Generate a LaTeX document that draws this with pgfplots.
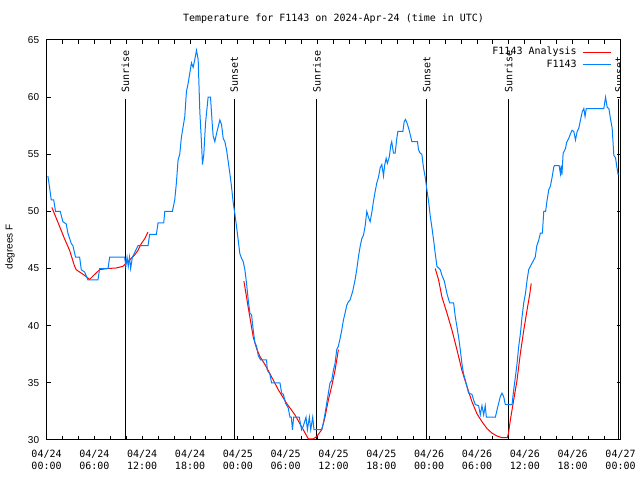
\documentclass[border=0pt]{standalone}
\usepackage{fontspec}
\setmainfont{DejaVu Sans Mono}
\newfontfamily\lsans{Liberation Sans}
\usepackage{pgfplots}
\pgfplotsset{compat=1.18}
\newcommand\mf{\fontsize{7.5}{9}\selectfont}
\definecolor{obsblue}{RGB}{0,128,255}
\definecolor{anared}{RGB}{255,0,0}
\begin{document}
\begin{tikzpicture}
\begin{axis}[
  width=430.5pt, height=300pt, scale only axis,
  xmin=0, xmax=72, ymin=30, ymax=65,
  xtick={0,6,...,72}, minor xtick={0,2,...,72},
  xticklabels={{04/24\\00:00},{04/24\\06:00},{04/24\\12:00},{04/24\\18:00},{04/25\\00:00},{04/25\\06:00},{04/25\\12:00},{04/25\\18:00},{04/26\\00:00},{04/26\\06:00},{04/26\\12:00},{04/26\\18:00},{04/27\\00:00}},
  xticklabel style={align=center, font=\mf, inner sep=0pt, anchor=north, yshift=-7pt},
  ytick={30,35,...,65},
  yticklabel style={font=\lsans\fontsize{7.5}{9}\selectfont, inner sep=0pt, anchor=east, xshift=-5.4pt},
  /pgf/number format/assume math mode=true,
  tick align=inside, major tick length=3pt, minor tick length=3pt,
  every tick/.style={black, line width=0.75pt},
  axis line style={black, line width=0.75pt},
  ylabel={degrees F},
  ylabel style={font=\lsans\fontsize{7.5}{9}\selectfont, at={(axis description cs:-0.0636,0.4825)}, anchor=center},
  legend style={draw=none, fill=none, at={(1,1)}, anchor=north east, xshift=-6.9pt, yshift=-4.25pt, font=\mf, inner sep=0pt, nodes={inner sep=1pt}, row sep=0pt, column sep=3pt},
  legend plot pos=right, legend cell align=right,
  legend image code/.code={\draw[#1] (0pt,0pt) -- (21pt,0pt);},
  clip=true,
]
% day/night lines
\addplot[black, line width=0.75pt, forget plot] coordinates {(9.89,30) (9.89,59.8)};
\addplot[black, line width=0.75pt, forget plot] coordinates {(23.54,30) (23.54,59.8)};
\addplot[black, line width=0.75pt, forget plot] coordinates {(33.92,30) (33.92,59.8)};
\addplot[black, line width=0.75pt, forget plot] coordinates {(47.68,30) (47.68,59.8)};
\addplot[black, line width=0.75pt, forget plot] coordinates {(57.98,30) (57.98,59.8)};
\addplot[black, line width=0.75pt, forget plot] coordinates {(71.8,30) (71.8,59.8)};
% analysis
\addplot[anared, line width=0.75pt] coordinates {
(0.67,50.35) (1.63,48.7) (2.26,47.6) (2.89,46.6) (3.52,45.2) (3.73,44.9) (4.78,44.4) (5.4,44.05) (5.9,44.4) (6.66,44.9) (7.5,45.0) (8.76,45.05) (9.59,45.2) (10.43,45.75) (11.06,46.2) (11.48,46.6) (11.9,47.2) (12.31,47.6) (12.73,48.2)};
\addlegendentry{F1143 Analysis}
\addplot[anared, line width=0.75pt, forget plot] coordinates {
(24.76,43.9) (25.3,41.6) (25.93,39.0) (26.35,38.0) (26.77,37.3) (27.4,36.6) (28.02,35.8) (29.07,34.4) (30.12,33.2) (31.16,32.2) (32.2,30.9) (32.84,30.1) (33.46,30.1) (33.89,30.3) (34.52,30.9) (34.93,32.0) (35.35,33.5) (35.77,34.7) (36.19,36.1) (36.61,37.9)};
\addplot[anared, line width=0.75pt, forget plot] coordinates {
(48.76,45.0) (49.18,44.0) (49.6,42.5) (50.23,41.1) (50.86,39.6) (51.48,37.9) (52.1,36.1) (52.73,34.7) (53.36,33.35) (53.99,32.3) (54.62,31.6) (55.25,31.0) (55.88,30.6) (56.5,30.35) (57.13,30.2) (57.8,30.2) (57.95,30.6) (58.18,31.75) (58.6,33.5) (59.02,35.25) (59.44,37.6) (59.86,39.6) (60.28,41.4) (60.6,42.7) (60.8,43.7)};
% observations
\addplot[obsblue, line width=0.75pt] coordinates {
(0.17,53.1) (0.4,52.0) (0.59,51.0) (0.9,51.0) (1.13,50.0) (1.72,50.0) (2.05,49.1) (2.47,48.9) (2.68,48.1) (3.10,47.2) (3.31,47.0) (3.64,46.0) (4.15,46.0) (4.36,44.9) (4.78,44.7) (5.19,44.0) (6.45,44.0) (6.66,45.0) (7.71,45.0) (7.92,46.0) (9.80,46.0) (9.95,45.2) (10.1,46.0) (10.25,45.2) (10.4,46.0) (10.55,45.0) (10.77,46.0) (11.48,47.0) (12.73,47.0) (12.94,48.0) (13.78,48.0) (13.99,49.0) (14.70,49.0) (14.83,50.0) (15.79,50.0) (16.08,51.0) (16.29,52.5) (16.50,54.5) (16.71,55.0) (16.92,56.5) (17.34,58.3) (17.55,60.5) (17.76,61.2) (18.18,63.0) (18.39,62.6) (18.60,63.3) (18.81,64.1) (19.02,63.3) (19.23,58.7) (19.44,56.0) (19.56,54.1) (19.73,55.0) (19.94,57.7) (20.27,60.0) (20.57,60.0) (20.78,57.7) (20.90,56.6) (21.11,56.1) (21.32,56.8) (21.74,58.0) (21.95,57.6) (22.16,56.4) (22.37,56.1) (22.58,55.4) (23.0,53.3) (23.2,52.2) (23.41,50.8) (23.62,49.8) (23.83,48.7) (24.04,47.5) (24.25,46.3) (24.46,45.9) (24.67,45.6) (24.88,44.9) (25.09,43.7) (25.30,42.25) (25.51,41.1) (25.72,40.95) (25.93,39.6) (26.14,38.5) (26.35,38.2) (26.55,37.4) (26.85,37.0) (27.6,37.0) (27.69,36.1) (28.0,35.8) (28.23,35.0) (29.28,35.0) (29.49,34.1) (29.7,34.0) (29.99,33.2) (30.32,32.8) (30.53,32.0) (30.7,32.0) (30.85,30.9) (31.0,32.0) (31.7,32.0) (31.99,30.9) (32.2,31.2) (32.55,32.0) (32.72,30.9) (32.97,32.0) (33.14,30.9) (33.39,32.0) (33.55,30.9) (34.52,30.9) (34.73,31.5) (34.93,32.3) (35.14,33.2) (35.35,34.1) (35.56,35.0) (35.77,35.2) (35.98,36.1) (36.19,36.7) (36.4,37.9) (36.6,38.2) (36.8,38.8) (37.03,39.6) (37.24,40.5) (37.45,41.1) (37.66,41.8) (37.87,42.1) (38.07,42.25) (38.4,43.0) (38.7,44.0) (38.91,44.9) (39.12,46.0) (39.33,46.9) (39.54,47.6) (39.75,47.9) (39.96,48.7) (40.17,50.0) (40.38,49.5) (40.59,49.1) (40.80,49.9) (41.0,50.85) (41.21,51.7) (41.43,52.5) (41.64,53.0) (41.85,53.8) (42.06,54.1) (42.27,53.1) (42.4,54.0) (42.6,54.65) (42.75,54.2) (43.0,54.8) (43.18,55.8) (43.3,56.1) (43.52,55.1) (43.73,55.1) (43.94,56.4) (44.07,57.0) (44.7,57.0) (44.86,57.85) (45.03,58.05) (45.24,57.7) (45.49,57.1) (45.7,56.5) (45.82,56.1) (46.53,56.1) (46.66,55.4) (46.87,55.1) (47.08,55.0) (47.29,53.8) (47.5,53.0) (47.71,51.9) (47.92,50.9) (48.13,49.6) (48.34,48.6) (48.55,47.5) (48.76,46.3) (48.97,45.2) (49.39,44.9) (49.6,44.4) (49.9,43.9) (50.23,42.8) (50.56,42.0) (51.06,42.0) (51.27,40.8) (51.48,39.9) (51.69,39.0) (51.9,37.9) (52.1,36.7) (52.31,35.8) (52.52,35.25) (52.73,34.7) (52.94,34.1) (53.36,34.0) (53.57,33.5) (53.78,33.1) (54.2,33.0) (54.41,32.2) (54.62,33.0) (54.83,32.2) (55.03,33.0) (55.17,32.0) (56.3,32.0) (56.6,32.9) (56.92,33.8) (57.13,34.1) (57.34,33.8) (57.55,33.1) (58.39,33.1) (58.6,34.4) (58.81,35.5) (59.02,36.7) (59.23,38.2) (59.44,39.3) (59.65,40.8) (59.86,42.0) (60.07,42.8) (60.28,44.0) (60.48,44.9) (60.69,45.2) (61.0,45.6) (61.3,46.0) (61.5,47.0) (61.74,47.5) (61.95,48.1) (62.2,48.1) (62.29,49.1) (62.37,50.0) (62.6,50.0) (62.79,51.0) (63.0,51.9) (63.2,52.2) (63.42,53.0) (63.63,53.9) (63.7,54.0) (64.3,54.0) (64.46,53.3) (64.55,54.0) (64.65,53.2) (64.8,55.1) (65.1,55.5) (65.22,56.0) (65.51,56.4) (65.72,56.8) (65.93,57.1) (66.14,57.0) (66.35,56.25) (66.56,57.0) (66.77,57.3) (66.98,58.0) (67.19,58.7) (67.4,59.0) (67.55,58.3) (67.7,59.0) (69.9,59.0) (70.12,60.0) (70.33,59.1) (70.54,59.0) (70.74,58.1) (70.95,57.3) (71.16,54.9) (71.37,54.7) (71.5,54.05) (71.7,53.2)};
\addlegendentry{F1143}
% labels
\node[rotate=90, anchor=west, font=\mf, inner sep=0pt] at (axis cs:9.89,60.4) {Sunrise};
\node[rotate=90, anchor=west, font=\mf, inner sep=0pt] at (axis cs:23.54,60.4) {Sunset};
\node[rotate=90, anchor=west, font=\mf, inner sep=0pt] at (axis cs:33.92,60.4) {Sunrise};
\node[rotate=90, anchor=west, font=\mf, inner sep=0pt] at (axis cs:47.68,60.4) {Sunset};
\node[rotate=90, anchor=west, font=\mf, inner sep=0pt] at (axis cs:57.98,60.4) {Sunrise};
\node[rotate=90, anchor=west, font=\mf, inner sep=0pt] at (axis cs:71.8,60.4) {Sunset};
\end{axis}
\node[font=\mf] at ([yshift=15.75pt]current axis.north) {Temperature for F1143 on 2024-Apr-24 (time in UTC)};
\pgfresetboundingbox
\path ([shift={(-34.9pt,-30pt)}]current axis.south west) rectangle ([shift={(14.6pt,30pt)}]current axis.north east);
\end{tikzpicture}
\end{document}
